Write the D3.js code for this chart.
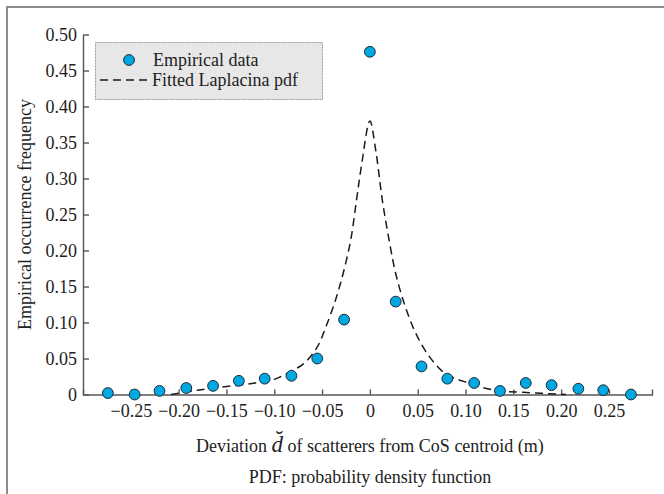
<!DOCTYPE html>
<html>
<head>
<meta charset="utf-8">
<script src="https://cdn.jsdelivr.net/npm/d3@7"></script>
<style>
  body { margin: 0; background: #fff; }
  svg text { font-family: "Liberation Serif", "Times New Roman", serif; fill: #222; }
</style>
</head>
<body>
<svg width="664" height="494"></svg>
<script>
const svg = d3.select("svg");

// ---- data ----
const pointX = [-0.274, -0.246, -0.220, -0.192, -0.164, -0.137, -0.110, -0.082, -0.055, -0.027, 0,
                 0.027, 0.054, 0.081, 0.109, 0.136, 0.163, 0.190, 0.218, 0.244, 0.273];
const pointY = [0.002, 0.000, 0.005, 0.009, 0.012, 0.019, 0.022, 0.026, 0.050, 0.104, 0.476,
                0.129, 0.039, 0.022, 0.016, 0.005, 0.016, 0.013, 0.008, 0.006, 0.000];

const curveX = [-0.208, -0.180, -0.150, -0.120, -0.100, -0.083, -0.069, -0.055, -0.046, -0.036,
                -0.028, -0.020, -0.014, -0.009, 0, 0.006, 0.013, 0.020, 0.027, 0.037,
                 0.048, 0.062, 0.079, 0.103, 0.130, 0.160, 0.205];
const curveY = [0.000, 0.006, 0.011, 0.016, 0.021, 0.032, 0.043, 0.066, 0.094, 0.131,
                0.168, 0.215, 0.270, 0.316, 0.380, 0.340, 0.270, 0.215, 0.168, 0.122,
                0.085, 0.053, 0.029, 0.016, 0.006, 0.003, 0.000];

const xTicks = [-0.25, -0.20, -0.15, -0.10, -0.05, 0, 0.05, 0.10, 0.15, 0.20, 0.25];
const yTicks = [0, 0.05, 0.10, 0.15, 0.20, 0.25, 0.30, 0.35, 0.40, 0.45, 0.50];

const points = pointX.map((x, i) => ({ x: x, y: pointY[i] }));
const curve = curveX.map((x, i) => ({ x: x, y: curveY[i] }));

// ---- scales ----
const x = d3.scaleLinear().domain([-0.3, 0.295]).range([83, 652]);
const y = d3.scaleLinear().domain([0, 0.5]).range([394.5, 34.5]);

const fmt = v => v === 0 ? "0" : d3.format(".2f")(v);

// ---- outer frame (top and left only) ----
svg.append("path")
    .attr("d", "M7,494V7H664")
    .attr("fill", "none")
    .attr("stroke", "#8c8c8c")
    .attr("stroke-width", 2);

// ---- axes ----
const xAxis = svg.append("g")
    .attr("transform", `translate(0,${y(0)})`)
    .call(d3.axisBottom(x).tickValues(xTicks).tickFormat(fmt)
        .tickSizeInner(-5).tickSizeOuter(-5).tickPadding(10));

const yAxis = svg.append("g")
    .attr("transform", `translate(${x(-0.3)},0)`)
    .call(d3.axisLeft(y).tickValues(yTicks).tickFormat(fmt)
        .tickSizeInner(-6).tickSizeOuter(0).tickPadding(6));

[xAxis, yAxis].forEach(g => {
    g.selectAll("path, line").attr("stroke", "#555").attr("stroke-width", 1.4);
    g.selectAll("text").attr("font-size", 18).attr("fill", "#222")
        .style("font-family", "'Liberation Serif', serif");
});

// ---- fitted curve ----
const line = d3.line()
    .x(d => x(d.x))
    .y(d => y(d.y))
    .curve(d3.curveCatmullRom.alpha(0.5));

svg.append("path")
    .datum(curve)
    .attr("d", line)
    .attr("fill", "none")
    .attr("stroke", "#1a1a1a")
    .attr("stroke-width", 1.5)
    .attr("stroke-dasharray", "8,5");

// ---- empirical points ----
svg.append("g").selectAll("circle")
    .data(points)
    .join("circle")
    .attr("cx", d => x(d.x))
    .attr("cy", d => y(d.y))
    .attr("r", 5.4)
    .attr("fill", "#00a8e2")
    .attr("stroke", "#1d2b36")
    .attr("stroke-width", 1);

// ---- legend ----
const legend = svg.append("g");
legend.append("rect")
    .attr("x", 95.5).attr("y", 42.5)
    .attr("width", 227).attr("height", 57)
    .attr("fill", "#e7e7e7")
    .attr("stroke", "#9a9a9a")
    .attr("stroke-width", 1)
    .attr("stroke-dasharray", "2,1");

legend.append("circle")
    .attr("cx", 129).attr("cy", 60).attr("r", 5.4)
    .attr("fill", "#00a8e2").attr("stroke", "#1d2b36");
legend.append("text")
    .attr("x", 153).attr("y", 66)
    .attr("font-size", 18)
    .text("Empirical data");

legend.append("line")
    .attr("x1", 100).attr("x2", 152)
    .attr("y1", 80).attr("y2", 80)
    .attr("stroke", "#1a1a1a")
    .attr("stroke-width", 1.5)
    .attr("stroke-dasharray", "8,5");
legend.append("text")
    .attr("x", 152).attr("y", 86)
    .attr("font-size", 18)
    .text("Fitted Laplacina pdf");

// ---- axis titles ----
svg.append("text")
    .attr("transform", `translate(31,${(y(0) + y(0.5)) / 2}) rotate(-90)`)
    .attr("text-anchor", "middle")
    .attr("font-size", 18)
    .text("Empirical occurrence frequency");

const xTitle = svg.append("text")
    .attr("x", x(0))
    .attr("y", 452)
    .attr("text-anchor", "middle")
    .attr("font-size", 18);
xTitle.append("tspan").text("Deviation  ");
xTitle.append("tspan").attr("font-style", "italic").attr("font-size", 23).text("d\u0306");
xTitle.append("tspan").text("  of scatterers from CoS centroid (m)");

svg.append("text")
    .attr("x", x(0))
    .attr("y", 483)
    .attr("text-anchor", "middle")
    .attr("font-size", 18)
    .text("PDF: probability density function");
</script>
</body>
</html>
